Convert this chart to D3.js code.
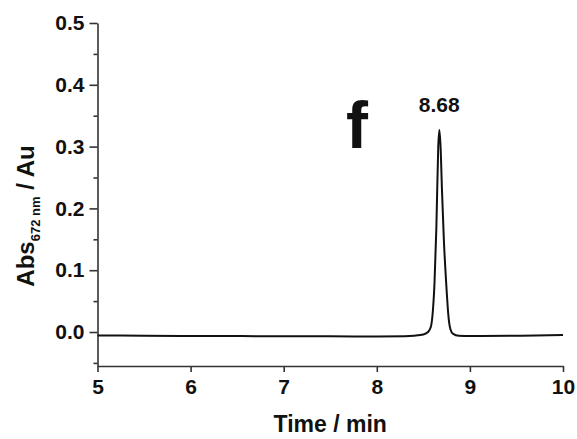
<!DOCTYPE html>
<html>
<head>
<meta charset="utf-8">
<script src="https://cdn.jsdelivr.net/npm/d3@7"></script>
<style>
  body { margin: 0; background: #fff; }
  text { font-family: "Liberation Sans", Arial, sans-serif; font-weight: bold; fill: #111; }
</style>
</head>
<body>
<div id="chart"></div>
<script>
// chromatogram
const time = [5.0, 5.5, 6.0, 6.5, 7.0, 7.5, 8.0, 8.3, 8.4, 8.5, 8.55, 8.58, 8.6, 8.62, 8.64, 8.66, 8.672,
  8.685, 8.7, 8.72, 8.745, 8.77, 8.79, 8.82, 8.88, 9.0, 9.5, 10.0];
const absorbance = [-0.0055, -0.006, -0.0065, -0.0065, -0.007, -0.007, -0.0072, -0.0068, -0.006, -0.004, 0.0, 0.008, 0.03, 0.08, 0.17, 0.30, 0.327,
  0.30, 0.23, 0.15, 0.08, 0.025, 0.005, -0.003, -0.006, -0.0065, -0.006, -0.005];
const xTicks = [5, 6, 7, 8, 9, 10];
const yTicks = [0.0, 0.1, 0.2, 0.3, 0.4, 0.5];
const yMinorTicks = [-0.05, 0.05, 0.15, 0.25, 0.35, 0.45];
const peakLabel = "8.68";
const panelLabel = "f";

const width = 577, height = 439;
const margin = { top: 23, right: 14, bottom: 73, left: 97.5 };

const svg = d3.select("#chart").append("svg")
  .attr("width", width)
  .attr("height", height);

const x = d3.scaleLinear().domain([5, 10]).range([margin.left, width - margin.right]);
const y = d3.scaleLinear().domain([-0.055, 0.5]).range([height - margin.bottom, margin.top]);

// x axis
const xAxis = svg.append("g")
  .attr("transform", "translate(0," + y(-0.055) + ")")
  .call(d3.axisBottom(x).tickValues(xTicks).tickFormat(d3.format("d")).tickSize(6).tickSizeOuter(0));
xAxis.selectAll("text").attr("font-size", 21).attr("dy", "0.9em");

// y axis
const yAxis = svg.append("g")
  .attr("transform", "translate(" + x(5) + ",0)")
  .call(d3.axisLeft(y).tickValues(yTicks).tickFormat(d3.format(".1f")).tickSize(8).tickSizeOuter(0));
yAxis.selectAll("text").attr("font-size", 21).attr("dx", "-0.1em");

svg.append("g")
  .attr("transform", "translate(" + x(5) + ",0)")
  .call(d3.axisLeft(y).tickValues(yMinorTicks).tickFormat("").tickSize(4).tickSizeOuter(0))
  .select(".domain").remove();

svg.selectAll(".domain, .tick line").attr("stroke", "#333").attr("stroke-width", 1.6);

// trace
const line = d3.line()
  .x((d, i) => x(time[i]))
  .y(d => y(d))
  .curve(d3.curveMonotoneX);

svg.append("path")
  .datum(absorbance)
  .attr("fill", "none")
  .attr("stroke", "#111")
  .attr("stroke-width", 2)
  .attr("d", line);

// labels
svg.append("text")
  .attr("x", x(8.67))
  .attr("y", 112)
  .attr("text-anchor", "middle")
  .attr("font-size", 21)
  .text(peakLabel);

svg.append("text")
  .attr("x", 357)
  .attr("y", 148)
  .attr("text-anchor", "middle")
  .attr("font-size", 66)
  .text(panelLabel);

svg.append("text")
  .attr("x", (x(5) + x(10)) / 2)
  .attr("y", 432)
  .attr("text-anchor", "middle")
  .attr("font-size", 23)
  .text("Time / min");

const yTitle = svg.append("text")
  .attr("transform", "translate(34," + 216 + ") rotate(-90)")
  .attr("text-anchor", "middle")
  .attr("font-size", 24);
yTitle.append("tspan").text("Abs");
yTitle.append("tspan").attr("font-size", 13).attr("dy", 6).text("672 nm");
yTitle.append("tspan").attr("dy", -6).text(" / Au");
</script>
</body>
</html>
